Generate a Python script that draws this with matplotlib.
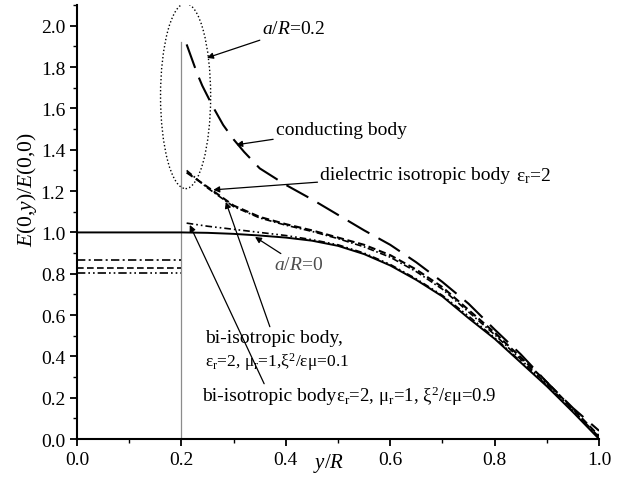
import matplotlib
matplotlib.use("Agg")
import matplotlib.pyplot as plt
from matplotlib.patches import Ellipse
from matplotlib.ticker import MultipleLocator

plt.rcParams['font.family'] = 'Liberation Serif'
plt.rcParams['mathtext.fontset'] = 'custom'
plt.rcParams['mathtext.rm'] = 'Liberation Serif'
plt.rcParams['mathtext.it'] = 'Liberation Serif:italic'

# a/R = 0 (no cavity)
x_solid = [0.0, 0.2, 0.25, 0.3, 0.35, 0.4, 0.45, 0.5, 0.55, 0.6, 0.65, 0.7, 0.75, 0.8, 0.85, 0.9, 0.95, 1.0]
v_solid = [1.0, 1.0, 0.998, 0.993, 0.985, 0.975, 0.96, 0.935, 0.895, 0.84, 0.77, 0.69, 0.585, 0.485, 0.37, 0.255, 0.13, 0.0]

# conducting body, a/R = 0.2
x_cond = [0.21, 0.22, 0.23, 0.24, 0.26, 0.28, 0.3, 0.32, 0.35, 0.4, 0.45, 0.5, 0.55, 0.6, 0.65, 0.7, 0.75, 0.8, 0.85, 0.9, 0.95, 1.0]
v_cond = [1.91, 1.84, 1.77, 1.71, 1.61, 1.52, 1.45, 1.39, 1.31, 1.23, 1.16, 1.085, 1.01, 0.94, 0.855, 0.76, 0.655, 0.53, 0.41, 0.275, 0.15, 0.04]

# dielectric and bi-isotropic bodies, a/R = 0.2
x_out = [0.21, 0.25, 0.3, 0.35, 0.4, 0.45, 0.5, 0.55, 0.6, 0.65, 0.7, 0.75, 0.8, 0.85, 0.9, 0.95, 1.0]
v_diel = [1.29, 1.22, 1.13, 1.075, 1.04, 1.01, 0.975, 0.94, 0.89, 0.82, 0.735, 0.625, 0.515, 0.395, 0.275, 0.145, 0.015]
v_bi01 = [1.30, 1.215, 1.125, 1.07, 1.035, 1.005, 0.97, 0.93, 0.88, 0.81, 0.725, 0.615, 0.505, 0.385, 0.265, 0.14, 0.01]
v_bi09 = [1.045, 1.03, 1.015, 1.0, 0.985, 0.965, 0.94, 0.90, 0.845, 0.775, 0.695, 0.595, 0.49, 0.375, 0.26, 0.135, 0.005]

# constant field inside the cavity
x_in = [0.0, 0.2]
v_in_bi01 = 0.868
v_in_diel = 0.828
v_in_bi09 = 0.804

fig = plt.figure(figsize=(6.26, 4.81), dpi=100)
ax = fig.add_axes([0.123, 0.0852, 0.834, 0.902])

ax.plot([0.2, 0.2], [0, 1.92], color='0.55', lw=0.9)

ax.plot(x_solid, v_solid, color='black', lw=1.4)
l, = ax.plot(x_cond, v_cond, color='black', lw=1.5)
l.set_dashes((12, 5))
l, = ax.plot(x_out, v_diel, color='black', lw=1.5)
l.set_dashes((3.5, 1.8))
l, = ax.plot(x_out, v_bi01, color='black', lw=1.2)
l.set_dashes((4, 1.5, 1, 1.5))
l, = ax.plot(x_out, v_bi09, color='black', lw=1.2)
l.set_dashes((4, 1.8, 1, 1.8, 1, 1.8))

l, = ax.plot(x_in, [v_in_bi01] * 2, color='black', lw=1.2)
l.set_dashes((5, 2, 1.2, 2))
l, = ax.plot(x_in, [v_in_diel] * 2, color='black', lw=1.2)
l.set_dashes((4, 2))
l, = ax.plot(x_in, [v_in_bi09] * 2, color='black', lw=1.2)
l.set_dashes((5, 1.8, 1, 1.8, 1, 1.8))

ax.add_patch(Ellipse((0.208, 1.66), 0.096, 0.896, fill=False, ls=':', lw=1.0, color='black'))

arw = dict(arrowstyle='-|>', color='black', lw=0.9, mutation_scale=9, shrinkA=0, shrinkB=0)
fs = 14

ax.annotate('$a/R$=0.2', xy=(0.249, 1.845), xytext=(0.354, 1.985), fontsize=fs,
            va='center', arrowprops=arw)
ax.annotate('conducting body', xy=(0.305, 1.424), xytext=(0.381, 1.50), fontsize=fs,
            va='center', arrowprops=arw)
ax.annotate('dielectric isotropic body', xy=(0.261, 1.206), xytext=(0.466, 1.278),
            fontsize=fs, va='center', arrowprops=arw)
ax.text(0.84, 1.278, r'$\mathrm{\varepsilon_r}$=2', fontsize=fs, va='center')
ax.annotate('$a/R$=0', xy=(0.341, 0.978), xytext=(0.377, 0.843), fontsize=fs,
            va='center', color='0.3', arrowprops=arw)
ax.annotate('bi-isotropic body,', xy=(0.285, 1.148), xytext=(0.245, 0.489), fontsize=fs,
            va='center', arrowprops=arw)
ax.text(0.245, 0.378, r'$\mathrm{\varepsilon_r}$=2, $\mathrm{\mu_r}$=1,$\mathrm{\xi^2/\varepsilon\mu}$=0.1',
        fontsize=12.5, va='center')
ax.annotate('bi-isotropic body', xy=(0.216, 1.036), xytext=(0.240, 0.213), fontsize=fs,
            va='center', arrowprops=arw)
ax.text(0.497, 0.213, r'$\mathrm{\varepsilon_r}$=2, $\mathrm{\mu_r}$=1, $\mathrm{\xi^2/\varepsilon\mu}$=0.9',
        fontsize=13.5, va='center')

ax.set_xlim(0, 1.0)
ax.set_ylim(0, 2.1)
ax.xaxis.set_major_locator(MultipleLocator(0.2))
ax.xaxis.set_minor_locator(MultipleLocator(0.1))
ax.yaxis.set_major_locator(MultipleLocator(0.2))
ax.yaxis.set_minor_locator(MultipleLocator(0.1))
ax.tick_params(which='major', direction='out', length=5, width=1.3, labelsize=fs)
ax.tick_params(which='minor', direction='out', length=3, width=1.0)
for s in ['top', 'right']:
    ax.spines[s].set_visible(False)
for s in ['left', 'bottom']:
    ax.spines[s].set_linewidth(1.5)

ax.set_ylabel('$E$(0,$y$)/$E$(0,0)', fontsize=15.5, labelpad=2)
ax.yaxis.set_label_coords(-0.072, 0.576)
ax.text(0.482, -0.028, '$y/R$', fontsize=15, va='top', ha='center',
        transform=ax.get_xaxis_transform())

fig.savefig('out.png', dpi=100)
